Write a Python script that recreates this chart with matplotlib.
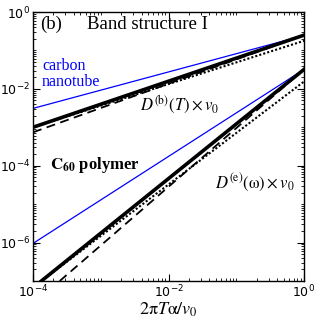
import matplotlib
matplotlib.use('Agg')
import matplotlib.pyplot as plt
import numpy as np
from matplotlib.ticker import LogLocator, NullFormatter

plt.rcParams['mathtext.fontset'] = 'stix'
plt.rcParams['font.family'] = 'DejaVu Sans'

# values (log-log straight lines, so end points)
x_end = [1e-4, 1.0]

# upper group: D^(b)(T) x v0
cnt_b = [3.1e-3, 0.245]      # carbon nanotube (blue)
c60_b = [1.0e-3, 0.25]       # C60 polymer (thick black)
c60_b_dash = [7.4e-4, 0.25]
c60_b_dot = [1.0e-3, 0.178]

# lower group: D^(e)(omega) x v0
cnt_e = [9.5e-7, 0.032]
x_e = [1.33e-4, 1.0]
c60_e = [1.0e-7, 0.032]
x_e_dash = [2.48e-4, 1.0]
c60_e_dash = [1.0e-7, 0.032]
c60_e_dot = [6.8e-8, 0.0155]

fig = plt.figure(figsize=(3.17, 3.27), dpi=100)
ax = fig.add_axes([33/317, 1 - 281/327, 271/317, 269/327])

ax.loglog(x_end, cnt_b, color='#0000ff', lw=0.9)
ax.loglog(x_end, cnt_e, color='#0000ff', lw=0.9)
ax.loglog(x_end, c60_b, color='black', lw=2.6)
ax.loglog(x_e, c60_e, color='black', lw=2.6)
ax.loglog(x_end, c60_b_dash, color='black', lw=1.3, ls=(0, (5, 3)))
ax.loglog(x_e_dash, c60_e_dash, color='black', lw=1.3, ls=(0, (5, 3)))
ax.loglog(x_end, c60_b_dot, color='black', lw=1.5, ls=(0, (1, 1)))
ax.loglog(x_end, c60_e_dot, color='black', lw=1.5, ls=(0, (1, 1)))

ax.set_xlim(1e-4, 1)
ax.set_ylim(1e-7, 1)

ax.set_xticks([1e-4, 1e-2, 1])
ax.xaxis.set_minor_locator(LogLocator(base=10, subs=np.arange(1, 10), numticks=20))
ax.xaxis.set_minor_formatter(NullFormatter())
ax.set_yticks([1e-6, 1e-4, 1e-2, 1])
ax.yaxis.set_minor_locator(LogLocator(base=10, subs=np.arange(1, 10), numticks=20))
ax.yaxis.set_minor_formatter(NullFormatter())
ax.tick_params(which='both', direction='in', top=True, right=True, labelsize=9, pad=2)
ax.tick_params(which='major', length=5, width=0.8)
ax.tick_params(which='minor', length=2.5, width=0.6)
for lab in ax.get_xticklabels() + ax.get_yticklabels():
    lab.set_math_fontfamily('dejavusans')
for s in ax.spines.values():
    s.set_linewidth(1.0)

serif = 'Liberation Serif'
ax.text(0.026, 0.985, '(b)', transform=ax.transAxes, ha='left', va='top',
        fontsize=13.5, family=serif)
ax.text(0.2, 0.985, 'Band structure I', transform=ax.transAxes, ha='left', va='top',
        fontsize=13.5, family=serif)
ax.text(0.033, 0.83, 'carbon\nnanotube', transform=ax.transAxes, ha='left', va='top',
        fontsize=11.5, family=serif, color='#0000ff', linespacing=1.05)
ax.text(0.063, 0.431, r'$\mathbf{C_{60}}$ polymer', transform=ax.transAxes,
        ha='left', va='center', fontsize=12, family=serif, fontweight='bold')
ax.text(0.395, 0.655, r'$D^{\mathrm{(b)}}(T)\times v_0$', transform=ax.transAxes,
        ha='left', va='center', fontsize=12)
ax.text(0.67, 0.367, r'$D^{\mathrm{(e)}}(\mathrm{\omega})\times v_0$', transform=ax.transAxes,
        ha='left', va='center', fontsize=12)

ax.set_xlabel(r'$2\mathrm{\pi}T\mathrm{\alpha}/v_0$', fontsize=13, labelpad=0)

fig.savefig('out.png', dpi=100)
